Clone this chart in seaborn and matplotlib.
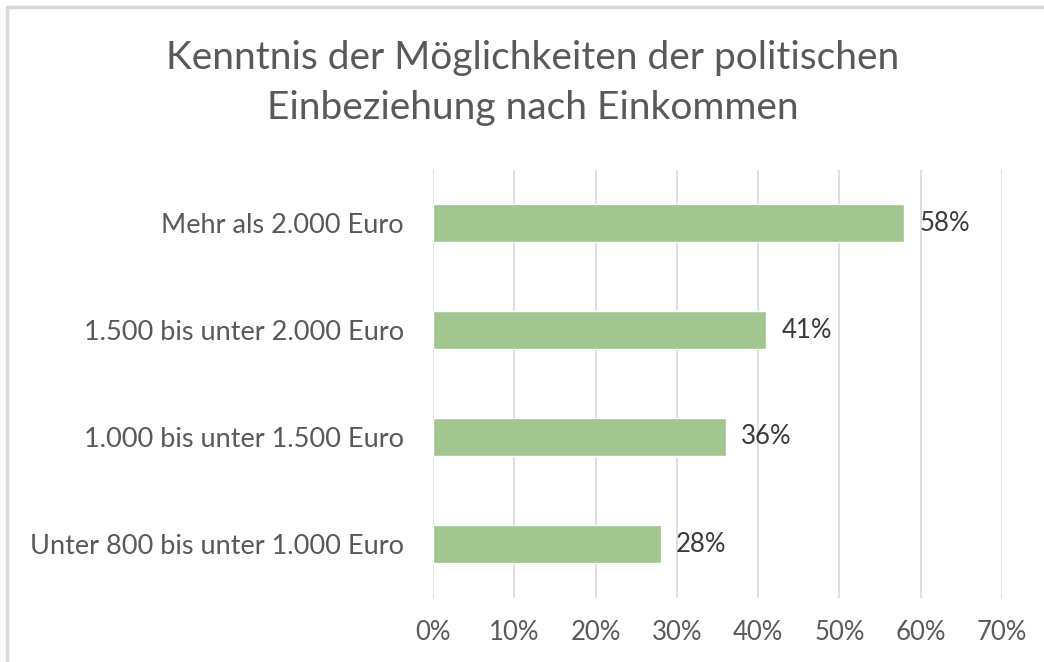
import matplotlib
matplotlib.use("Agg")
import matplotlib.pyplot as plt
import seaborn as sns
import pandas as pd
from matplotlib.lines import Line2D

categories = [
    "Mehr als 2.000 Euro",
    "1.500 bis unter 2.000 Euro",
    "1.000 bis unter 1.500 Euro",
    "Unter 800 bis unter 1.000 Euro",
]
values = [58, 41, 36, 28]
xticks = [0, 10, 20, 30, 40, 50, 60, 70]
title = "Kenntnis der Möglichkeiten der politischen\nEinbeziehung nach Einkommen"

df = pd.DataFrame({"Einkommen": categories, "Anteil": values})

sns.set_theme(style="white")
plt.rcParams["font.family"] = ["Lato", "DejaVu Sans"]

fig = plt.figure(figsize=(10.44, 6.62), dpi=100)
ax = fig.add_axes([433 / 1044, 1 - 597.5 / 662, (1002 - 433) / 1044, (597.5 - 169.5) / 662])

sns.barplot(data=df, x="Anteil", y="Einkommen", color="#A2C48F", width=0.36,
            saturation=1, ax=ax, zorder=3)

ax.set_xlim(0, 70)
ax.set_xticks(xticks)
ax.set_xticklabels([f"{t}%" for t in xticks], fontsize=18.5, color="#595959")
ax.tick_params(axis="x", length=0, pad=16)
ax.tick_params(axis="y", length=0, pad=21, labelsize=19.5, labelcolor="#595959")
ax.set_xlabel("")
ax.set_ylabel("")
ax.grid(axis="x", color="#D9D9D9", linewidth=1.2, zorder=0)
for s in ax.spines.values():
    s.set_visible(False)

for i, v in enumerate(values):
    ax.text(v + 1.9, i, f"{v}%", va="center", ha="left", fontsize=18.5, color="#3A3A3A")

fig.text(533 / 1044, 1 - 83 / 662, title, ha="center", va="center", fontsize=28,
         color="#595959", linespacing=1.48)

# outer frame (top and left edges)
fig.add_artist(Line2D([7 / 1044, 1], [1 - 7 / 662, 1 - 7 / 662], transform=fig.transFigure,
                      color="#D9D9D9", linewidth=2.5))
fig.add_artist(Line2D([7 / 1044, 7 / 1044], [0, 1 - 7 / 662], transform=fig.transFigure,
                      color="#D9D9D9", linewidth=2.5))

fig.savefig("out.png", dpi=100)
